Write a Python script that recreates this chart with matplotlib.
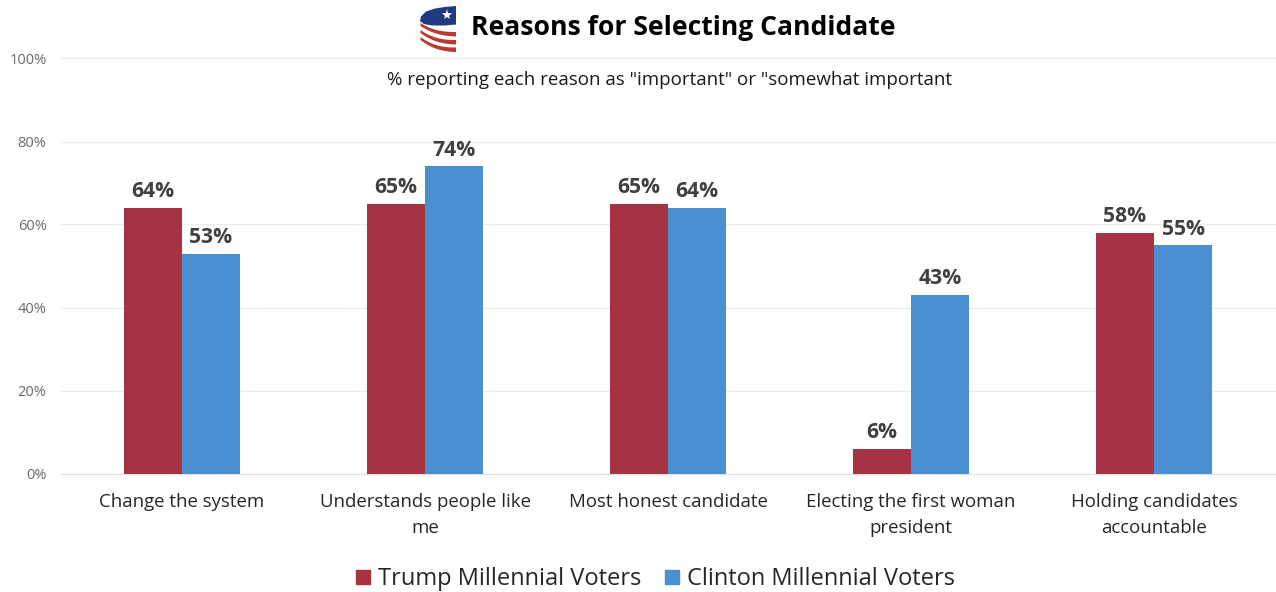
import numpy as np
from matplotlib import pyplot as plt
from matplotlib.patches import Polygon, Rectangle

categories = ['Change the system', 'Understands people like\nme', 'Most honest candidate',
              'Electing the first woman\npresident', 'Holding candidates\naccountable']
trump = [64, 65, 65, 6, 58]
clinton = [53, 74, 64, 43, 55]
y_ticks = [0, 20, 40, 60, 80, 100]
series_names = ['Trump Millennial Voters', 'Clinton Millennial Voters']

RED = '#A63343'
BLUE = '#4A90D0'

plt.rcParams['font.family'] = ['Open Sans', 'DejaVu Sans']

W, H = 1276, 592
fig = plt.figure(figsize=(W / 100, H / 100), dpi=100)
ax = fig.add_axes([60.5 / W, 1 - 473.5 / H, 1215 / W, 415 / H])

x = np.arange(len(categories))
bar_w = 0.239
ax.bar(x - bar_w / 2, trump, bar_w, color=RED, zorder=3)
ax.bar(x + bar_w / 2, clinton, bar_w, color=BLUE, zorder=3)

for i in range(len(categories)):
    ax.annotate(f'{trump[i]}%', (x[i] - bar_w / 2, trump[i]), xytext=(0, 4), textcoords='offset points',
                ha='center', va='bottom', fontsize=15.2, fontweight='bold', color='#404040')
    ax.annotate(f'{clinton[i]}%', (x[i] + bar_w / 2, clinton[i]), xytext=(0, 4), textcoords='offset points',
                ha='center', va='bottom', fontsize=15.2, fontweight='bold', color='#404040')

ax.set_xlim(-0.5, len(categories) - 0.5)
ax.set_ylim(0, 100)
ax.set_yticks(y_ticks)
ax.set_yticklabels([f'{t}%' for t in y_ticks], fontsize=10.5, color='#6b6b6b')
ax.set_xticks(x)
ax.set_xticklabels(categories, fontsize=13.4, color='#262626', linespacing=1.6)
ax.tick_params(axis='both', length=0)
ax.tick_params(axis='y', pad=10)
ax.tick_params(axis='x', pad=14)
ax.grid(axis='y', color='#ececec', linewidth=0.9, zorder=0, clip_on=False)
ax.set_axisbelow(True)
for s in ax.spines.values():
    s.set_visible(False)
ax.spines['bottom'].set_visible(True)
ax.spines['bottom'].set_color('#e0e0e0')

fig.text(471 / W, 1 - 28 / H, 'Reasons for Selecting Candidate', fontsize=19.1, fontweight='bold',
         color='black', ha='left', va='center')
fig.text(669.5 / W, 1 - 80 / H, '% reporting each reason as "important" or "somewhat important',
         fontsize=13.5, color='#1a1a1a', ha='center', va='center')

# legend, placed by hand so the swatches sit close to the names
fig.patches.append(Rectangle((356 / W, 1 - 584 / H), 14 / W, 14 / H, color=RED, transform=fig.transFigure))
fig.patches.append(Rectangle((665 / W, 1 - 584 / H), 14 / W, 14 / H, color=BLUE, transform=fig.transFigure))
fig.text(378 / W, 1 - 579 / H, series_names[0], fontsize=17, color='#262626', ha='left', va='center')
fig.text(687 / W, 1 - 579 / H, series_names[1], fontsize=17, color='#262626', ha='left', va='center')

# flag logo next to the title
logo = fig.add_axes([415 / W, 1 - 55 / H, 45 / W, 50 / H])
logo.set_xlim(415, 460)
logo.set_ylim(55, 5)
logo.axis('off')
logo.add_patch(Polygon([(456, 6), (445, 7), (435, 8.5), (426, 11.5), (421, 16.5), (420, 21), (424, 24),
                        (432, 25.5), (445, 25.5), (456, 24.5)], closed=True, color='#1F3A80', lw=0))
logo.plot([447], [15], marker='*', color='white', markersize=8, markeredgewidth=0)

t = np.linspace(0, 1, 30)
xs = 420.5 + 35.5 * t
for y_left, y_right in [(23, 32), (30, 40), (37, 47.5)]:
    upper = y_left + (y_right - y_left) * (1 - (1 - t) ** 2.5)
    lower = upper + 3 + 1.5 * t
    pts = list(zip(xs, upper)) + list(zip(xs[::-1], lower[::-1]))
    logo.add_patch(Polygon(pts, closed=True, color='#B83A30', lw=0))

fig.savefig('out.png', dpi=100)
